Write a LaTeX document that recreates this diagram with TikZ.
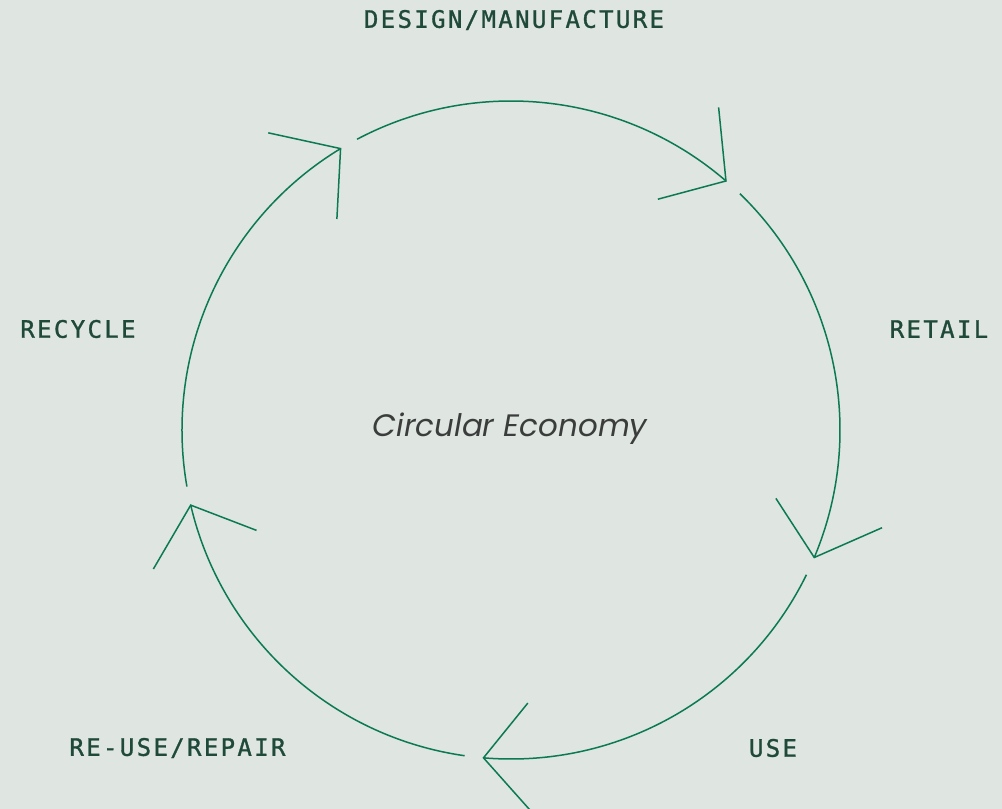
\documentclass[tikz,border=0pt]{standalone}
\usepackage{fontspec}
\usetikzlibrary{calc}
\newfontfamily\labelfont[LetterSpace=9.8,FakeBold=1.2]{DejaVu Sans Mono}
\newfontfamily\centerfont{Poppins}
\definecolor{bgc}{HTML}{DFE5E1}
\definecolor{ringc}{HTML}{0B7A52}
\definecolor{labelc}{HTML}{1F4A3A}
\definecolor{centerc}{HTML}{3A3D3B}
\tikzset{
  stagelabel/.style={text=labelc, font=\labelfont\fontsize{24}{24}\selectfont, inner sep=0pt},
  ringline/.style={draw=ringc, line width=1.5pt},
  headline/.style={draw=ringc, line width=1.5pt, line join=miter, miter limit=20},
}
\begin{document}
\begin{tikzpicture}[x=1pt,y=-1pt]
\useasboundingbox[fill=bgc] (0,0) rectangle (1002,809);
\coordinate (c) at (511,430);
\def\R{329}
\def\off{238.8}
\foreach \k in {0,...,4}{
  \pgfmathsetmacro{\tp}{\off+72*\k}
  \pgfmathsetmacro{\st}{\tp-72+3.3}
  \coordinate (tip\k) at ($(c)+(\tp:\R)$);
  \draw[ringline] ($(c)+(\st:\R)$) arc[start angle=\st, end angle=\tp, radius=\R];
  \pgfmathsetmacro{\aa}{\tp-46.5}
  \pgfmathsetmacro{\ab}{\tp-145.8}
  \draw[headline] ($(tip\k)+(\aa:74)$) -- (tip\k) -- ($(tip\k)+(\ab:70.5)$);
}
\node[stagelabel] (design) at (514,20) {DESIGN/MANUFACTURE};
\node[stagelabel] (retail) at (939,329) {RETAIL};
\node[stagelabel] (use) at (773,748) {USE};
\node[stagelabel] (reuse) at (177.5,748) {RE-USE/REPAIR};
\node[stagelabel] (recycle) at (78,329) {RECYCLE};
\node[text=centerc, font=\centerfont\itshape\fontsize{31}{31}\selectfont, inner sep=0pt] (title) at (510,429) {Circular Economy};
\end{tikzpicture}
\end{document}
